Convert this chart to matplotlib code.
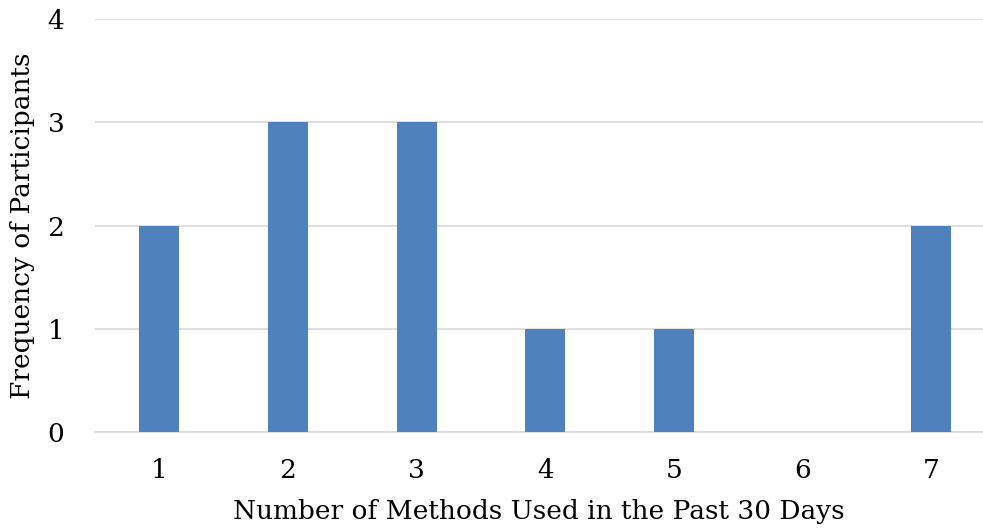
import matplotlib
matplotlib.use("Agg")
import matplotlib.pyplot as plt

categories = ["1", "2", "3", "4", "5", "6", "7"]
counts = [2, 3, 3, 1, 1, 0, 2]

plt.rcParams['font.family'] = ['DejaVu Serif']

fig = plt.figure(figsize=(9.83, 5.29), dpi=100)
ax = fig.add_axes([95/983, 97/529, 888/983, 413/529])

x = list(range(len(categories)))
ax.bar(x, counts, width=0.31, color="#4F81BD", zorder=3)

ax.set_xlim(-0.5, -0.5 + 888/128.67)
ax.set_ylim(0, 4)
ax.set_yticks([0, 1, 2, 3, 4])
ax.set_xticks(x)
ax.set_xticklabels(categories)
ax.grid(axis="y", color="#D9D9D9", linewidth=1.2, zorder=0)
for s in ["top", "right", "left"]:
    ax.spines[s].set_visible(False)
ax.spines["bottom"].set_color("#D9D9D9")
ax.spines["bottom"].set_linewidth(1.2)
ax.tick_params(axis="both", length=0, labelsize=19)
ax.tick_params(axis="x", pad=19)
ax.tick_params(axis="y", pad=22)

ax.set_xlabel("Number of Methods Used in the Past 30 Days", fontsize=19, labelpad=11)
ax.set_ylabel("Frequency of Participants", fontsize=19, labelpad=9)

fig.savefig("out.png", dpi=100)
